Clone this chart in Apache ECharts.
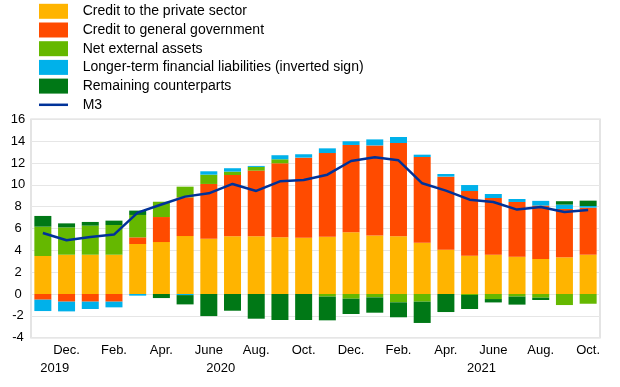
<!DOCTYPE html>
<html>
<head>
<meta charset="utf-8">
<script src="https://cdn.jsdelivr.net/npm/echarts@6/dist/echarts.min.js"></script>
<style>html,body{margin:0;padding:0;background:#fff;}#c{width:620px;height:387px;}</style>
</head>
<body>
<div id="c"></div>
<script>
// Months Nov 2019 – Oct 2021
const categories = ["Nov.","Dec.","Jan.","Feb.","Mar.","Apr.","May","June","July","Aug.","Sep.","Oct.",
                    "Nov.","Dec.","Jan.","Feb.","Mar.","Apr.","May","June","July","Aug.","Sep.","Oct."];
const categoryYears = ["2019","2019","2020","2020","2020","2020","2020","2020","2020","2020","2020","2020",
                       "2020","2020","2021","2021","2021","2021","2021","2021","2021","2021","2021","2021"];
const yearLabels = ["2019","2020","2021"];
const yTicks = [-4,-2,0,2,4,6,8,10,12,14,16];

const privateSector = [3.48,3.60,3.60,3.60,4.58,4.76,5.31,5.07,5.28,5.28,5.19,5.16,5.25,5.65,5.37,5.28,4.70,4.06,3.51,3.60,3.42,3.21,3.36,3.60];
const generalGov    = [-0.52,-0.70,-0.70,-0.70,0.61,2.29,3.54,5.01,5.62,6.02,6.78,7.33,7.66,8.00,8.24,8.55,7.85,6.69,5.92,5.19,5.01,4.89,4.43,4.31];
const netExternal   = [2.69,2.50,2.66,2.72,2.05,1.40,0.98,0.85,0.31,0.34,0.37,0,-0.24,-0.43,-0.31,-0.76,-0.70,0,-0.09,-0.46,-0.24,-0.34,-1.01,-0.89];
const longerTerm    = [-1.04,-0.89,-0.67,-0.52,-0.15,0,-0.10,0.31,0.31,0.09,0.37,0.31,0.43,0.34,0.55,0.55,0.21,0.24,0.55,0.37,0.27,0.43,0.40,0.15];
const remaining     = [0.98,0.37,0.34,0.40,0.40,-0.37,-0.85,-2.02,-1.53,-2.26,-2.38,-2.38,-2.17,-1.40,-1.40,-1.37,-1.95,-1.65,-1.28,-0.31,-0.73,-0.21,0.31,0.49];
const m3            = [5.59,4.92,5.22,5.44,7.45,8.20,8.92,9.22,10.08,9.44,10.32,10.44,10.93,12.18,12.52,12.24,10.14,9.47,8.64,8.43,7.73,7.97,7.51,7.69];

// year label centres on a half-step scale (category i spans [2i, 2i+2])
const yearCenters = {};
yearLabels.forEach(y => {
  const idx = categoryYears.map((v,i)=>v===y?i:-1).filter(i=>i>=0);
  const c = (idx[0] + idx[idx.length-1]) / 2;
  yearCenters[Math.round(2*c+1)] = y;
});

const FONT = "Liberation Sans, Arial, sans-serif";
const chart = echarts.init(document.getElementById('c'), null, {renderer:'canvas'});
const barBase = {type:'bar', stack:'total', barWidth:17, xAxisIndex:0, yAxisIndex:0};
chart.setOption({
  animation:false,
  textStyle:{fontFamily:FONT},
  legend:{
    orient:'vertical', left:39, top:3.8, padding:0,
    itemWidth:29, itemHeight:15, itemGap:3.7,
    textStyle:{fontSize:14, color:'#000', fontFamily:FONT, lineHeight:15, padding:[0,0,0,9.7]},
    data:[
      {name:'Credit to the private sector', icon:'rect'},
      {name:'Credit to general government', icon:'rect'},
      {name:'Net external assets', icon:'rect'},
      {name:'Longer-term financial liabilities (inverted sign)', icon:'rect'},
      {name:'Remaining counterparts', icon:'rect'},
      {name:'M3', icon:'path://M0,0H116V10H0Z'}
    ]
  },
  grid:{left:31, right:20, top:119.3, bottom:49.3, show:true, borderColor:'#dcdcdc', borderWidth:1.5},
  xAxis:[{
    type:'category', data:categories, boundaryGap:true,
    axisLine:{show:false}, axisTick:{show:false},
    axisLabel:{interval:(i)=>i%2===1, margin:6, fontSize:13, color:'#000', fontFamily:FONT}
  },{
    type:'value', min:0, max:categories.length*2, interval:1, position:'bottom',
    axisLine:{show:false}, axisTick:{show:false}, splitLine:{show:false},
    axisLabel:{margin:24, fontSize:13, color:'#000', fontFamily:FONT, showMinLabel:true, showMaxLabel:true,
      formatter:(v)=>yearCenters[Math.round(v)]&&Math.abs(v-Math.round(v))<1e-6 ? yearCenters[Math.round(v)] : ''}
  }],
  yAxis:{
    type:'value', min:yTicks[0], max:yTicks[yTicks.length-1], interval:2,
    axisLine:{show:false}, axisTick:{show:false},
    splitLine:{lineStyle:{color:'#e6e6e6', width:1.2}},
    axisLabel:{align:'center', margin:13, fontSize:13, color:'#000', fontFamily:FONT}
  },
  series:[
    Object.assign({}, barBase, {name:'Credit to the private sector', data:privateSector, itemStyle:{color:'#ffb400'}}),
    Object.assign({}, barBase, {name:'Credit to general government', data:generalGov, itemStyle:{color:'#ff4b00'}}),
    Object.assign({}, barBase, {name:'Net external assets', data:netExternal, itemStyle:{color:'#65b800'}}),
    Object.assign({}, barBase, {name:'Longer-term financial liabilities (inverted sign)', data:longerTerm, itemStyle:{color:'#00b1ea'}}),
    Object.assign({}, barBase, {name:'Remaining counterparts', data:remaining, itemStyle:{color:'#007816'}}),
    {name:'M3', type:'line', data:m3, symbol:'none', xAxisIndex:0, yAxisIndex:0,
     lineStyle:{color:'#003299', width:2.5}, itemStyle:{color:'#003299'}, z:5}
  ]
});
</script>
</body>
</html>
